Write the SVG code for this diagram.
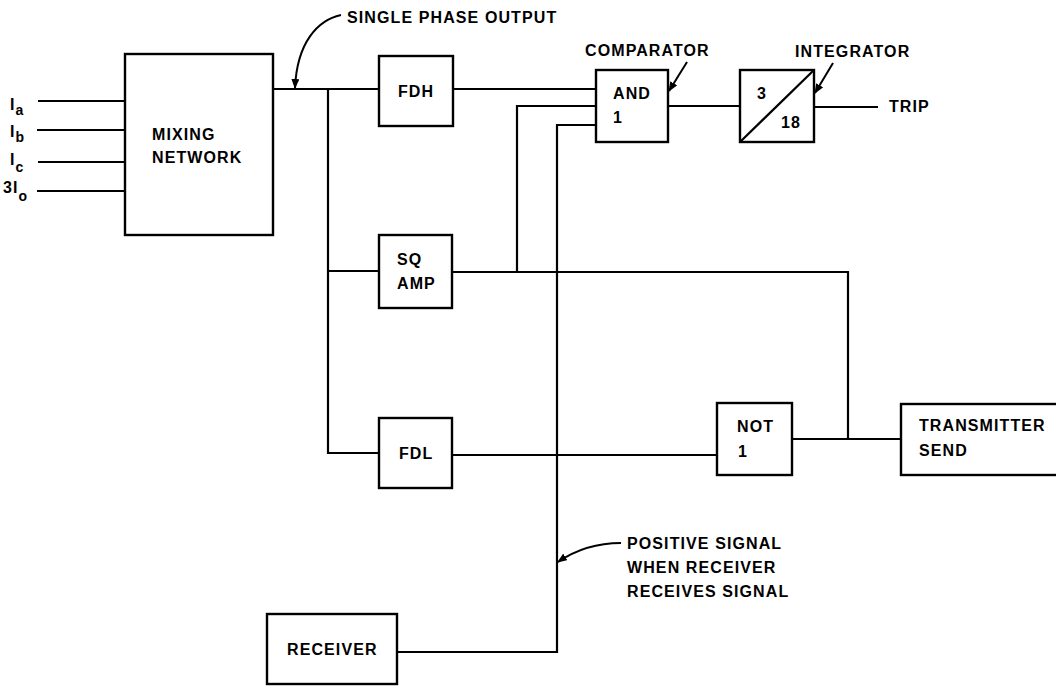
<svg xmlns="http://www.w3.org/2000/svg" width="1056" height="686" viewBox="0 0 1056 686">
  <style>
    .box { fill: #ffffff; stroke: #000000; stroke-width: 2.4; }
    .wire { fill: none; stroke: #000000; stroke-width: 2.2; stroke-linejoin: miter; }
    .lead { fill: none; stroke: #000000; stroke-width: 2; }
    text { font-family: "Liberation Sans", Arial, Helvetica, sans-serif; font-weight: bold; font-size: 16px; letter-spacing: 1.1px; fill: #000000; }
    .sub { font-size: 14px; letter-spacing: 0; }
  </style>
  <defs>
    <marker id="arrow" viewBox="0 0 10 8" refX="9" refY="4" markerWidth="10" markerHeight="8" markerUnits="userSpaceOnUse" orient="auto">
      <path d="M0,0 L10,4 L0,8 Z" fill="#000000"/>
    </marker>
  </defs>

  <rect width="1056" height="686" fill="#ffffff"/>

  <!-- connectors -->
  <g id="connectors">
    <path class="wire" d="M38,101 H125"/>
    <path class="wire" d="M37,130 H125"/>
    <path class="wire" d="M38,162 H125"/>
    <path class="wire" d="M37,191 H125"/>
    <path class="wire" d="M273,89 H379"/>
    <path class="wire" d="M328,89 V453 H379"/>
    <path class="wire" d="M328,271 H379"/>
    <path class="wire" d="M453,89 H596"/>
    <path class="wire" d="M517,272 V106 H596"/>
    <path class="wire" d="M397,652 H557 V125 H596"/>
    <path class="wire" d="M452,272 H848 V439"/>
    <path class="wire" d="M452,455 H717"/>
    <path class="wire" d="M792,439 H901"/>
    <path class="wire" d="M668,106 H740"/>
    <path class="wire" d="M814,107 H878"/>
  </g>

  <!-- annotation leaders -->
  <g id="annotations">
    <path class="lead" d="M341,15 C318,20 297,42 295,88" marker-end="url(#arrow)"/>
    <text x="347" y="23">SINGLE PHASE OUTPUT</text>
    <path class="lead" d="M687,62 L669,91" marker-end="url(#arrow)"/>
    <text x="585" y="56">COMPARATOR</text>
    <path class="lead" d="M833,63 L815,93" marker-end="url(#arrow)"/>
    <text x="795" y="57">INTEGRATOR</text>
    <path class="lead" d="M621,543 C600,543 577,549 558,562" marker-end="url(#arrow)"/>
    <text x="627" y="549">POSITIVE SIGNAL</text>
    <text x="627" y="573">WHEN RECEIVER</text>
    <text x="627" y="597">RECEIVES SIGNAL</text>
    <text x="889" y="112">TRIP</text>
  </g>

  <!-- input labels -->
  <g id="inputs">
    <text x="10" y="110">I<tspan class="sub" dy="5">a</tspan></text>
    <text x="10" y="137">I<tspan class="sub" dy="5">b</tspan></text>
    <text x="10" y="165">I<tspan class="sub" dy="7">c</tspan></text>
    <text x="3" y="193">3I<tspan class="sub" dy="8">o</tspan></text>
  </g>

  <g id="mixing-network">
    <rect class="box" x="125" y="54" width="148" height="181"/>
    <text x="152" y="140">MIXING</text>
    <text x="152" y="163">NETWORK</text>
  </g>

  <g id="fdh">
    <rect class="box" x="379" y="56" width="74" height="70"/>
    <text x="398" y="97">FDH</text>
  </g>

  <g id="sq-amp">
    <rect class="box" x="379" y="235" width="73" height="73"/>
    <text x="397" y="265">SQ</text>
    <text x="397" y="289">AMP</text>
  </g>

  <g id="fdl">
    <rect class="box" x="379" y="418" width="73" height="70"/>
    <text x="399" y="459">FDL</text>
  </g>

  <g id="and-gate">
    <rect class="box" x="596" y="70" width="72" height="72"/>
    <text x="613" y="99">AND</text>
    <text x="613" y="123">1</text>
  </g>

  <g id="integrator">
    <rect class="box" x="740" y="70" width="74" height="72"/>
    <path class="wire" d="M740,142 L814,70"/>
    <text x="757" y="99">3</text>
    <text x="781" y="128">18</text>
  </g>

  <g id="not-gate">
    <rect class="box" x="717" y="403" width="75" height="72"/>
    <text x="737" y="432">NOT</text>
    <text x="738" y="457">1</text>
  </g>

  <g id="transmitter">
    <rect class="box" x="901" y="404" width="170" height="71"/>
    <text x="919" y="431">TRANSMITTER</text>
    <text x="919" y="456">SEND</text>
  </g>

  <g id="receiver">
    <rect class="box" x="267" y="614" width="130" height="70"/>
    <text x="287" y="655">RECEIVER</text>
  </g>
</svg>
